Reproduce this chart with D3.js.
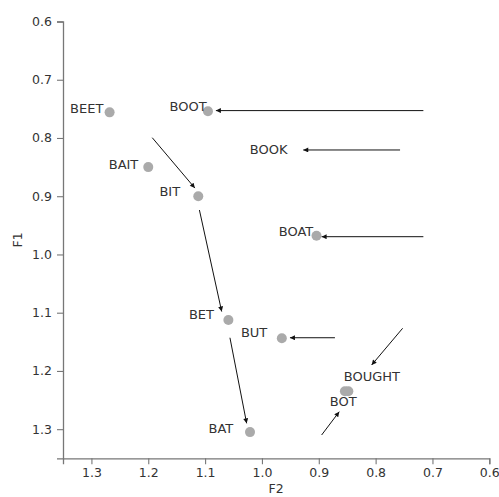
<!DOCTYPE html>
<html>
<head>
<meta charset="utf-8">
<script src="https://cdn.jsdelivr.net/npm/d3@7/dist/d3.min.js"></script>
<style>
  html, body { margin: 0; padding: 0; background: #fff; }
  svg { display: block; }
  text { font-family: "DejaVu Sans", sans-serif; }
</style>
</head>
<body>
<script>
// Vowel formants: F2 (horizontal) against F1 (vertical), both axes inverted
const words = ["BEET", "BOOT", "BAIT", "BIT", "BOOK", "BOAT", "BET", "BUT", "BOUGHT", "BOT", "BAT"];
const f2    = [1.268, 1.095, 1.200, 1.112, null, 0.904, 1.059, 0.965, 0.848, 0.854, 1.021];
const f1    = [0.756, 0.754, 0.850, 0.900, null, 0.968, 1.1125, 1.144, 1.235, 1.235, 1.305];

// Label anchors (right end of text, baseline) in data units
const labelF2 = [1.279, 1.0972, 1.2175, 1.144, 0.955, 0.9097, 1.0844, 0.9906, 0.757, 0.8334, 1.0504];
const labelF1 = [0.757, 0.753, 0.853, 0.900, 0.8275, 0.968, 1.111, 1.141, 1.2167, 1.2597, 1.307];

// Arrows: start (F2, F1) -> tip (F2, F1)
const arrowFromF2 = [1.193, 1.110, 1.0563, 0.716, 0.757, 0.716, 0.8716, 0.7525, 0.895];
const arrowFromF1 = [0.7995, 0.9237, 1.143, 0.753, 0.8206, 0.9695, 1.143, 1.1268, 1.310];
const arrowToF2   = [1.118, 1.0708, 1.0269, 1.081, 0.9273, 0.895, 0.9507, 0.807, 0.864];
const arrowToF1   = [0.886, 1.098, 1.290, 0.753, 0.8206, 0.9695, 1.143, 1.1898, 1.270];

const xTicks = [1.3, 1.2, 1.1, 1.0, 0.9, 0.8, 0.7, 0.6];
const yTicks = [0.6, 0.7, 0.8, 0.9, 1.0, 1.1, 1.2, 1.3];

const W = 499, H = 497;
const margin = { left: 63, right: 9.7, top: 21.5, bottom: 38.7 };

const svg = d3.select("body").append("svg").attr("width", W).attr("height", H);

const x = d3.scaleLinear().domain([1.35, 0.6]).range([margin.left, W - margin.right]);
const y = d3.scaleLinear().domain([0.6, 1.35]).range([margin.top, H - margin.bottom]);

svg.append("defs").append("marker")
  .attr("id", "head")
  .attr("viewBox", "0 0 10 10")
  .attr("refX", 10).attr("refY", 5)
  .attr("markerWidth", 7).attr("markerHeight", 5)
  .attr("markerUnits", "userSpaceOnUse")
  .attr("orient", "auto")
  .append("path").attr("d", "M0,0 L10,5 L0,10 Z").attr("fill", "#111");

const axisColor = "#777";
const tickText = "#333";

// Bottom axis
const gx = svg.append("g").attr("transform", `translate(0,${H - margin.bottom})`)
  .call(d3.axisBottom(x).tickValues(xTicks).tickFormat(d3.format(".1f")).tickSize(6).tickPadding(4));
// Left axis
const gy = svg.append("g").attr("transform", `translate(${margin.left},0)`)
  .call(d3.axisLeft(y).tickValues(yTicks).tickFormat(d3.format(".1f")).tickSize(6).tickPadding(5));

[gx, gy].forEach(g => {
  g.select(".domain").attr("stroke", axisColor).attr("stroke-width", 1.3);
  g.selectAll(".tick line").attr("stroke", axisColor).attr("stroke-width", 1.1);
  g.selectAll(".tick text").attr("fill", tickText).style("font-size", "12.5px")
    .style("font-family", "'DejaVu Sans', sans-serif");
});

// Axis titles
svg.append("text")
  .attr("x", (margin.left + W - margin.right) / 2).attr("y", 493)
  .attr("text-anchor", "middle").attr("fill", tickText).style("font-size", "12.5px")
  .text("F2");
svg.append("text")
  .attr("transform", `translate(22,${(margin.top + H - margin.bottom) / 2}) rotate(-90)`)
  .attr("text-anchor", "middle").attr("fill", tickText).style("font-size", "12.5px")
  .text("F1");

// Points
const pts = words.map((w, i) => ({ w, f2: f2[i], f1: f1[i] })).filter(d => d.f2 != null);
svg.append("g").selectAll("circle").data(pts).join("circle")
  .attr("cx", d => x(d.f2)).attr("cy", d => y(d.f1)).attr("r", 5)
  .attr("fill", "#aaaaaa");

// Labels
svg.append("g").selectAll("text").data(words).join("text")
  .attr("x", (d, i) => x(labelF2[i])).attr("y", (d, i) => y(labelF1[i]))
  .attr("text-anchor", "end").attr("fill", "#333").style("font-size", "13px")
  .text(d => d);

// Arrows
const arrows = arrowFromF2.map((v, i) => ({ x1: v, y1: arrowFromF1[i], x2: arrowToF2[i], y2: arrowToF1[i] }));
svg.append("g").selectAll("line").data(arrows).join("line")
  .attr("x1", d => x(d.x1)).attr("y1", d => y(d.y1))
  .attr("x2", d => x(d.x2)).attr("y2", d => y(d.y2))
  .attr("stroke", "#111").attr("stroke-width", 1)
  .attr("marker-end", "url(#head)");
</script>
</body>
</html>
